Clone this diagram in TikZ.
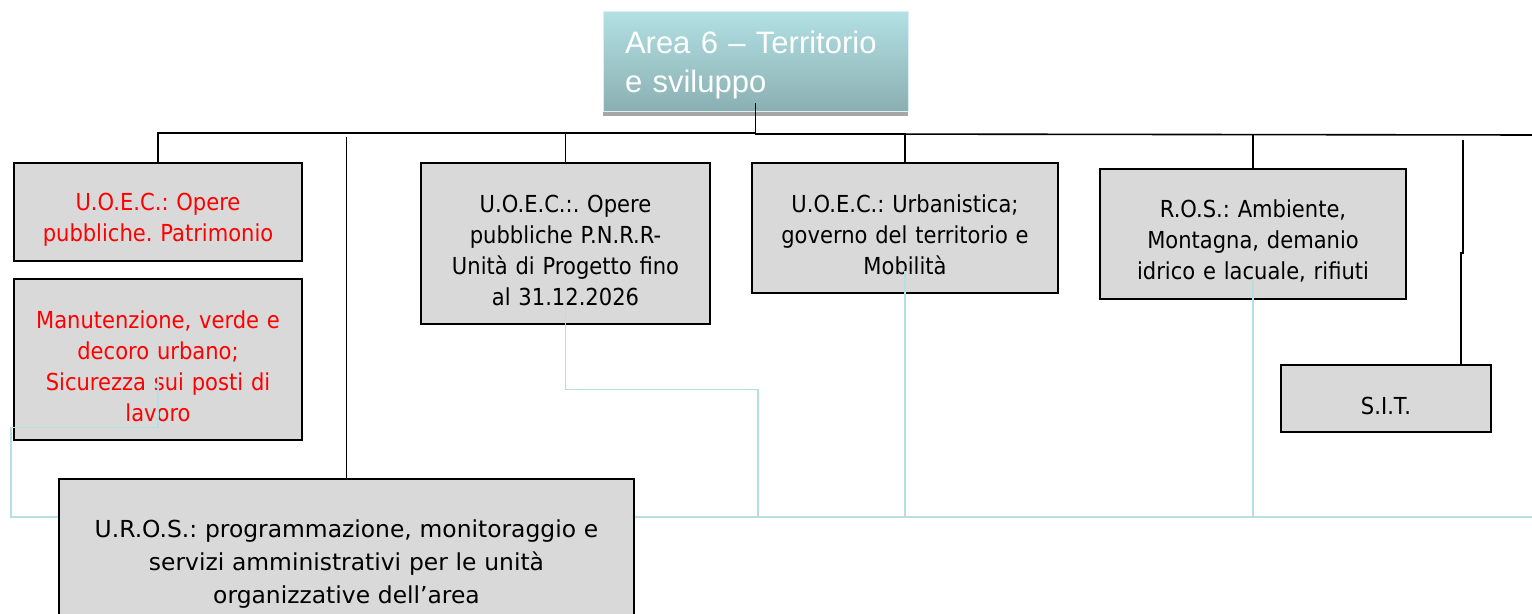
\documentclass[tikz,border=0pt]{standalone}
\usepackage{fontspec}
\setmainfont{DejaVu Sans}
\newfontfamily\boxfont[FakeStretch=0.9]{DejaVu Sans}
\newfontfamily\titlefont{Liberation Sans}
\usetikzlibrary{positioning, shadows}

\definecolor{boxgray}{HTML}{D9D9D9}
\definecolor{linkcyan}{HTML}{B7DEE1}
\definecolor{areatop}{HTML}{B2E0E3}
\definecolor{areabot}{HTML}{8AAFB2}

\begin{document}
\begin{tikzpicture}[x=0.5pt, y=-0.5pt,
    box/.style={draw, line width=0.9pt, fill=boxgray, rectangle, align=center, inner sep=0pt, minimum width=#1, text width=#1, font=\boxfont\fontsize{11.7}{15.5}\selectfont\frenchspacing, execute at begin node={\rule{0pt}{16pt}}},
    box/.default=144pt,
    redbox/.style={box=#1, text=red},
    redbox/.default=144pt,
    widebox/.style={box=#1, font=\fontsize{11.7}{16.5}\selectfont\frenchspacing},
    areabox/.style={draw=areatop!50!white, line width=0.5pt, top color=areatop, bottom color=areabot, text=white, align=left, inner xsep=11pt, text width=130.5pt, minimum height=50pt, font=\titlefont\fontsize{15.5}{19.5}\selectfont, execute at begin node={\rule{0pt}{13.8pt}}, drop shadow={shadow xshift=0pt, shadow yshift=-2pt, fill=black!35, opacity=1}},
    wire/.style={draw, line width=0.8pt},
    link/.style={draw=linkcyan, line width=0.7pt}
]
\useasboundingbox (0,0) rectangle (1532,614);

% Nodes
\node[areabox] (area) at (755.5,62) {Area 6 – Territorio\\e sviluppo};
\node[redbox, minimum height=49pt] (oepat) at (158,212) {U.O.E.C.: Opere\\pubbliche. Patrimonio};
\node[redbox, minimum height=80.5pt, below=8pt of oepat] (manut) {Manutenzione, verde e\\decoro urbano;\\Sicurezza sui posti di\\lavoro};
\node[box=144.5pt, minimum height=80.5pt] (pnrr) at (565.5,243.5) {U.O.E.C.:. Opere\\pubbliche P.N.R.R-\\Unità di Progetto fino\\al 31.12.2026};
\node[box=153pt, minimum height=65pt] (urb) at (905,228) {U.O.E.C.: Urbanistica;\\governo del territorio e\\Mobilità};
\node[box=153pt, minimum height=65pt] (ros) at (1253,234) {R.O.S.: Ambiente,\\Montagna, demanio\\idrico e lacuale, rifiuti};
\node[box=105pt, minimum height=33.5pt] (sit) at (1386,398.5) {S.I.T.};
\node[widebox=287.5pt, minimum height=78pt] (uros) at (346.5,557) {U.R.O.S.: programmazione, monitoraggio e\\servizi amministrativi per le unità\\organizzative dell’area};

% Black connectors
\coordinate (rend) at (1532,135);
\coordinate (lhub) at (755,133);
\draw[wire] ([yshift=4.5pt]area.south) |- ([yshift=14pt]urb.north) -- (urb.north);
\draw[wire] ([yshift=14pt]urb.north) -- (rend);
\draw[wire] (ros.north) -- (ros.north |- rend);
\draw[wire] (oepat.north) |- (lhub);
\draw[wire] (pnrr.north) -- (pnrr.north |- lhub);
\draw[wire] (uros.north) -- ++(0,-341);
\draw[wire] ([xshift=37.5pt]sit.north) -- ++(0,-111) -- ++(2,0) -- ++(0,-113);

% Cyan connectors
\coordinate (busend) at (1532,517);
\coordinate (tapP) at (758,517);
\draw[link] ([yshift=20pt]uros.west) -- ++(-47,0) |- ([yshift=-34pt]manut.center) -- ([yshift=-9pt]manut.center);
\draw[link] ([yshift=20pt]uros.east) -- (busend);
\draw[link] ([yshift=-28pt]pnrr.center) -- ([yshift=-73pt]pnrr.center) -| (tapP);
\draw[link] ([yshift=-21.5pt]urb.center) -- (urb.center |- busend);
\draw[link] ([yshift=-23pt]ros.center) -- (ros.center |- busend);

\end{tikzpicture}
\end{document}
